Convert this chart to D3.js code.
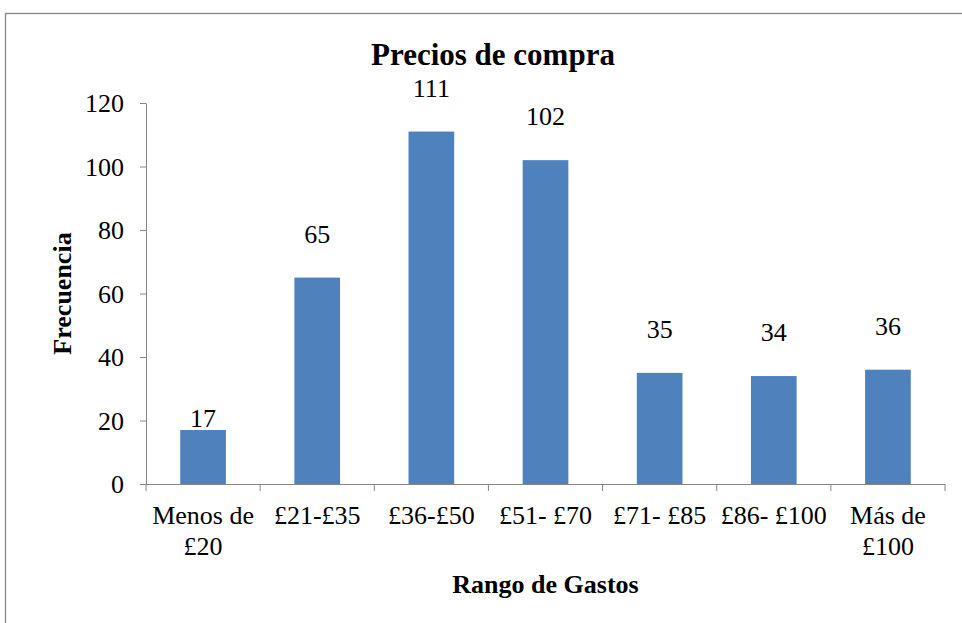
<!DOCTYPE html>
<html>
<head>
<meta charset="utf-8">
<script src="https://cdn.jsdelivr.net/npm/d3@7"></script>
<style>
  body { margin: 0; background: #fff; }
</style>
</head>
<body>
<div id="chart"></div>
<script>
// categories and counts
var categories = ["Menos de\n£20", "£21-£35", "£36-£50", "£51- £70", "£71- £85", "£86- £100", "Más de\n£100"];
var counts = [17, 65, 111, 102, 35, 34, 36];
var yTicks = [0, 20, 40, 60, 80, 100, 120];

var width = 962, height = 623;
var plot = { left: 146, right: 945, top: 103, bottom: 484 };
var barColor = "#4f81bd";
var axisColor = "#868686";
var serif = "'Liberation Serif', 'Times New Roman', serif";

var svg = d3.select("#chart")
    .append("svg")
    .attr("width", width)
    .attr("height", height)
    .style("font-family", serif)

// chart area border (runs off the right / bottom of the window)
svg.append("rect")
    .attr("x", 5.5)
    .attr("y", 13.5)
    .attr("width", 1000)
    .attr("height", 700)
    .attr("fill", "white")
    .attr("stroke", axisColor)
    .attr("stroke-width", 1.3)

var x = d3.scaleBand()
    .domain(categories)
    .range([plot.left, plot.right])
    .paddingInner(0.6)
    .paddingOuter(0.3)

var y = d3.scaleLinear()
    .domain([0, 120])
    .range([plot.bottom, plot.top])

// y axis
var yAxis = svg.append("g")
    .attr("transform", "translate(" + plot.left + ",0)")
    .call(d3.axisLeft(y).tickValues(yTicks).tickSize(6).tickPadding(16).tickSizeOuter(0))
yAxis.attr("font-family", null).attr("font-size", null)
yAxis.select(".domain").attr("stroke", axisColor)
yAxis.selectAll(".tick line").attr("stroke", axisColor)
yAxis.selectAll(".tick text")
    .style("font-family", serif)
    .style("font-size", "26px")
    .attr("fill", "#000")
    .attr("dy", "0.34em")

// x axis line + boundary ticks
var step = x.step();
var boundaries = d3.range(categories.length + 1).map(function(i) { return plot.left + i * step; });
svg.append("line")
    .attr("x1", plot.left).attr("x2", plot.right)
    .attr("y1", plot.bottom + 0.5).attr("y2", plot.bottom + 0.5)
    .attr("stroke", axisColor)
svg.selectAll(".xtick")
    .data(boundaries)
    .enter().append("line")
    .attr("class", "xtick")
    .attr("x1", function(d) { return d; }).attr("x2", function(d) { return d; })
    .attr("y1", plot.bottom).attr("y2", plot.bottom + 7)
    .attr("stroke", axisColor)

// bars
svg.selectAll(".bar")
    .data(counts)
    .enter().append("rect")
    .attr("class", "bar")
    .attr("x", function(d, i) { return x(categories[i]); })
    .attr("width", x.bandwidth())
    .attr("y", function(d) { return y(d); })
    .attr("height", function(d) { return y(0) - y(d); })
    .attr("fill", barColor)

// data labels - the first one sits right on its bar, the rest float higher
svg.selectAll(".vlabel")
    .data(counts)
    .enter().append("text")
    .attr("class", "vlabel")
    .attr("x", function(d, i) { return x(categories[i]) + x.bandwidth() / 2; })
    .attr("y", function(d, i) { return y(d) - (i == 0 ? 3 : 35); })
    .attr("text-anchor", "middle")
    .style("font-family", serif)
    .style("font-size", "26px")
    .text(function(d) { return d; })

// category labels, may wrap onto two lines
var catLabels = svg.selectAll(".clabel")
    .data(categories)
    .enter().append("text")
    .attr("class", "clabel")
    .attr("text-anchor", "middle")
    .style("font-family", serif)
    .style("font-size", "26px")
    .attr("transform", function(d) { return "translate(" + (x(d) + x.bandwidth() / 2) + "," + 524 + ")"; })
catLabels.each(function(d) {
    var lines = d.split("\n");
    var t = d3.select(this);
    lines.forEach(function(line, k) {
        t.append("tspan").attr("x", 0).attr("y", k * 31).text(line);
    });
})

// title + axis titles
svg.append("text")
    .attr("x", 493)
    .attr("y", 65)
    .attr("text-anchor", "middle")
    .style("font-family", serif)
    .style("font-size", "31px")
    .style("font-weight", "bold")
    .text("Precios de compra")

svg.append("text")
    .attr("transform", "translate(71," + ((plot.top + plot.bottom) / 2) + ") rotate(-90)")
    .attr("text-anchor", "middle")
    .style("font-family", serif)
    .style("font-size", "26px")
    .style("font-weight", "bold")
    .text("Frecuencia")

svg.append("text")
    .attr("x", 545.5)
    .attr("y", 593)
    .attr("text-anchor", "middle")
    .style("font-family", serif)
    .style("font-size", "26px")
    .style("font-weight", "bold")
    .text("Rango de Gastos")
</script>
</body>
</html>
